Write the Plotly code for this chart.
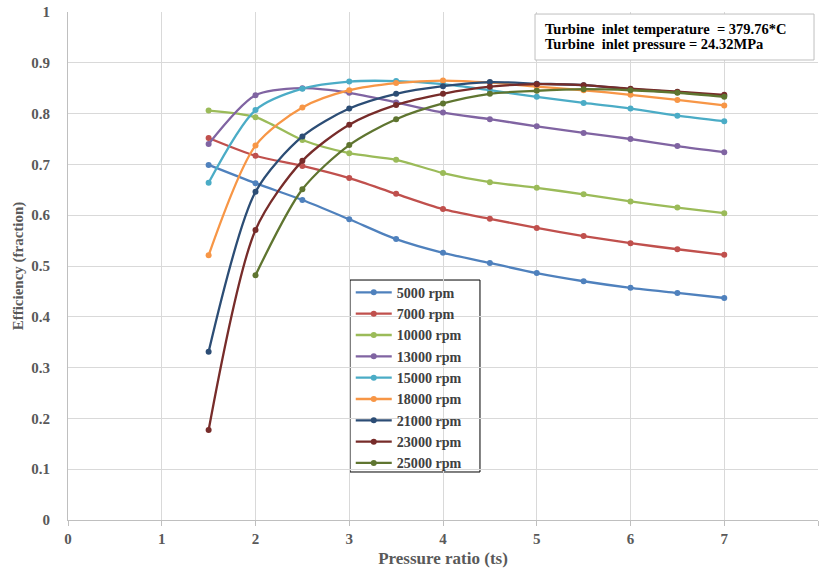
import plotly.graph_objects as go

# Pressure ratio (total-to-static) sample points
pr_full = [1.5, 2, 2.5, 3, 3.5, 4, 4.5, 5, 5.5, 6, 6.5, 7]
pr_from2 = [2, 2.5, 3, 3.5, 4, 4.5, 5, 5.5, 6, 6.5, 7]

# Turbine efficiency (fraction) at each rotational speed
eff_5000 = [0.699, 0.663, 0.630, 0.592, 0.553, 0.526, 0.506, 0.486, 0.470, 0.457, 0.447, 0.437]
eff_7000 = [0.752, 0.717, 0.697, 0.673, 0.642, 0.612, 0.593, 0.575, 0.559, 0.545, 0.533, 0.522]
eff_10000 = [0.806, 0.793, 0.748, 0.722, 0.709, 0.683, 0.665, 0.654, 0.641, 0.627, 0.615, 0.604]
eff_13000 = [0.740, 0.836, 0.850, 0.841, 0.822, 0.802, 0.789, 0.775, 0.762, 0.750, 0.736, 0.724]
eff_15000 = [0.664, 0.807, 0.849, 0.863, 0.864, 0.858, 0.846, 0.833, 0.821, 0.810, 0.796, 0.785]
eff_18000 = [0.521, 0.737, 0.812, 0.846, 0.860, 0.865, 0.861, 0.853, 0.846, 0.837, 0.827, 0.816]
eff_21000 = [0.331, 0.646, 0.755, 0.810, 0.839, 0.854, 0.862, 0.859, 0.856, 0.848, 0.842, 0.835]
eff_23000 = [0.177, 0.571, 0.707, 0.778, 0.817, 0.839, 0.853, 0.858, 0.856, 0.849, 0.843, 0.837]
eff_25000 = [0.482, 0.651, 0.738, 0.789, 0.820, 0.839, 0.845, 0.848, 0.846, 0.841, 0.833]

series = [
    ("5000 rpm", pr_full, eff_5000, "#4F81BD"),
    ("7000 rpm", pr_full, eff_7000, "#C0504D"),
    ("10000 rpm", pr_full, eff_10000, "#9BBB59"),
    ("13000 rpm", pr_full, eff_13000, "#8064A2"),
    ("15000 rpm", pr_full, eff_15000, "#4BACC6"),
    ("18000 rpm", pr_full, eff_18000, "#F79646"),
    ("21000 rpm", pr_full, eff_21000, "#2C4D75"),
    ("23000 rpm", pr_full, eff_23000, "#772C2A"),
    ("25000 rpm", pr_from2, eff_25000, "#5F7530"),
]

SERIF = "Liberation Serif"

fig = go.Figure()
for name, x, y, color in series:
    fig.add_trace(go.Scatter(
        x=x, y=y, name=name, mode="lines+markers",
        line=dict(color=color, width=2.3, shape="spline", smoothing=0.8),
        marker=dict(color=color, size=6),
    ))

fig.update_layout(
    width=820, height=570,
    margin=dict(l=68, r=2, t=12, b=50),
    paper_bgcolor="white", plot_bgcolor="white",
    font=dict(family=SERIF, color="#595959"),
    showlegend=True,
    legend=dict(
        x=0.377, y=0.479, xanchor="left", yanchor="top",
        bgcolor="rgba(0,0,0,0)", borderwidth=0,
        font=dict(family=SERIF, size=14.1, color="#404040", weight="bold"),
        itemwidth=36,
    ),
    xaxis=dict(
        range=[0, 8], dtick=1, showgrid=True, gridcolor="#D9D9D9", gridwidth=1,
        zeroline=False, showline=True, linecolor="#BFBFBF", linewidth=1,
        ticks="outside", ticklen=5, tickcolor="#BFBFBF",
        tickfont=dict(family=SERIF, size=15, color="#595959", weight="bold"),
        title=dict(text="Pressure ratio (ts)", standoff=6,
                   font=dict(family=SERIF, size=17, color="#595959", weight="bold")),
    ),
    yaxis=dict(
        range=[0, 1], dtick=0.1, showgrid=True, gridcolor="#D9D9D9", gridwidth=1,
        zeroline=False, showline=True, linecolor="#BFBFBF", linewidth=1,
        ticks="", tickformat="~g",
        tickfont=dict(family=SERIF, size=15, color="#595959", weight="bold"),
        ticklabelstandoff=14,
        title=dict(text="Efficiency (fraction)", standoff=4,
                   font=dict(family=SERIF, size=15, color="#595959", weight="bold")),
    ),
)

# Legend frame
fig.add_shape(
    type="rect", xref="paper", yref="paper",
    x0=0.376, x1=0.5493, y0=0.0945, y1=0.4724,
    line=dict(color="#000000", width=1), fillcolor="white", layer="between",
)

# Operating conditions box
fig.add_shape(
    type="rect", xref="paper", yref="paper",
    x0=0.6227, x1=0.9947, y0=0.9055, y1=0.996,
    line=dict(color="#BFBFBF", width=1), fillcolor="white", layer="above",
)
box_lines = [
    ("Turbine  inlet temperature  = 379.76*C", 0.9665),
    ("Turbine  inlet pressure = 24.32MPa", 0.937),
]
for text, ypos in box_lines:
    fig.add_annotation(
        xref="paper", yref="paper", x=0.6333, y=ypos, xanchor="left", yanchor="middle",
        text=text, showarrow=False, align="left",
        font=dict(family=SERIF, size=14.5, color="#000000", weight="bold"),
    )

fig.write_html("out.html")
